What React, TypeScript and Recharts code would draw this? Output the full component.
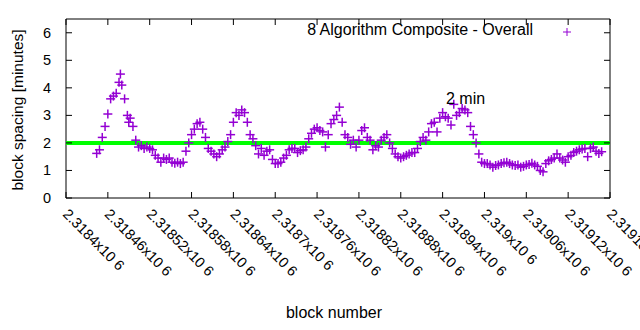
import { ScatterChart, Scatter, XAxis, YAxis, ReferenceLine, ReferenceArea } from 'recharts';

// block heights (x) and block spacing in minutes (y)
const blocks = [
    2318444, 2318448, 2318452, 2318456, 2318460, 2318464, 2318468, 2318472, 2318476, 2318478,
    2318480, 2318484, 2318488, 2318490, 2318492, 2318496, 2318500, 2318504, 2318508, 2318512,
    2318516, 2318520, 2318524, 2318528, 2318532, 2318536, 2318540, 2318544, 2318548, 2318552,
    2318556, 2318560, 2318564, 2318568, 2318572, 2318576, 2318580, 2318584, 2318588, 2318592,
    2318596, 2318600, 2318604, 2318608, 2318612, 2318616, 2318620, 2318624, 2318628, 2318632,
    2318636, 2318640, 2318644, 2318648, 2318652, 2318656, 2318660, 2318664, 2318668, 2318672,
    2318676, 2318680, 2318684, 2318688, 2318692, 2318696, 2318700, 2318704, 2318708, 2318712,
    2318716, 2318720, 2318724, 2318728, 2318732, 2318736, 2318740, 2318744, 2318748, 2318752,
    2318756, 2318760, 2318764, 2318768, 2318772, 2318776, 2318780, 2318784, 2318788, 2318792,
    2318796, 2318800, 2318804, 2318808, 2318812, 2318816, 2318820, 2318824, 2318828, 2318832,
    2318836, 2318840, 2318844, 2318848, 2318852, 2318856, 2318860, 2318864, 2318868, 2318872,
    2318876, 2318880, 2318884, 2318888, 2318892, 2318896, 2318900, 2318904, 2318908, 2318912,
    2318916, 2318920, 2318924, 2318928, 2318932, 2318936, 2318940, 2318944, 2318948, 2318952,
    2318956, 2318960, 2318964, 2318968, 2318972, 2318976, 2318980, 2318984, 2318988, 2318992,
    2318996, 2319000, 2319004, 2319008, 2319012, 2319016, 2319020, 2319024, 2319028, 2319032,
    2319036, 2319040, 2319044, 2319048, 2319052, 2319056, 2319060, 2319064, 2319068, 2319072,
    2319076, 2319080, 2319084, 2319088, 2319092, 2319096, 2319100, 2319104, 2319108, 2319112,
    2319116, 2319120, 2319124, 2319128, 2319132, 2319136, 2319140, 2319144, 2319148, 2319152,
    2319156, 2319160, 2319164, 2319168,
];

const spacing = [
    1.62, 1.75, 2.2, 2.6, 3.05, 3.6, 3.7, 3.8, 4.2, 4.5,
    4.1, 3.6, 3.0, 2.75, 2.9, 2.6, 2.1, 1.85, 1.9, 1.8,
    1.85, 1.8, 1.75, 1.55, 1.45, 1.3, 1.45, 1.4, 1.45, 1.3,
    1.26, 1.3, 1.25, 1.3, 1.7, 2.0, 2.3, 2.5, 2.7, 2.75,
    2.5, 2.2, 1.8, 1.7, 1.6, 1.5, 1.6, 1.75, 1.85, 2.05,
    2.3, 2.75, 3.1, 3.0, 3.2, 3.1, 2.75, 2.3, 2.15, 1.9,
    1.6, 1.8, 1.55, 1.7, 1.75, 1.4, 1.25, 1.25, 1.3, 1.45,
    1.55, 1.75, 1.8, 1.8, 1.65, 1.72, 1.75, 1.85, 2.15, 2.35,
    2.5, 2.55, 2.45, 2.4, 1.85, 2.3, 2.7, 2.85, 3.0, 3.3,
    2.75, 2.3, 2.2, 1.95, 2.1, 1.85, 2.1, 2.45, 2.55, 2.2,
    2.1, 1.75, 1.9, 1.85, 2.1, 2.2, 2.3, 2.0, 1.8, 1.6,
    1.5, 1.45, 1.5, 1.55, 1.6, 1.65, 1.65, 1.8, 2.05, 2.2,
    2.1, 2.4, 2.7, 2.75, 2.4, 2.9, 3.1, 2.95, 2.9, 2.65,
    3.4, 3.0, 3.1, 3.25, 3.2, 3.1, 2.6, 2.3, 2.0, 1.6,
    1.3, 1.25, 1.25, 1.2, 1.12, 1.18, 1.2, 1.25, 1.28, 1.3,
    1.25, 1.2, 1.18, 1.2, 1.12, 1.15, 1.2, 1.22, 1.26, 1.2,
    1.15, 1.0, 0.95, 1.25, 1.35, 1.4, 1.45, 1.6, 1.45, 1.38,
    1.3, 1.5, 1.55, 1.65, 1.7, 1.75, 1.78, 1.8, 1.5, 1.8,
    1.85, 1.7, 1.62, 1.68,
];

const xTicks = [
    2318400, 2318460, 2318520, 2318580, 2318640, 2318700, 2318760,
    2318820, 2318880, 2318940, 2319000, 2319060, 2319120, 2319180,
];
const yTicks = [0, 1, 2, 3, 4, 5, 6];

const seriesName = '8 Algorithm Composite - Overall';
const targetMinutes = 2;

const data = blocks.map((b, i) => ({ block: b, minutes: spacing[i] }));

const PURPLE = '#9400d3';
const FONT = '"Liberation Sans", Arial, sans-serif';
// plot frame (gnuplot style border)
const LEFT = 66, RIGHT = 610, TOP = 19, BOTTOM = 198;

const Plus = (props: any) => {
    const { cx, cy } = props;
    if (cx == null || cy == null) return null;
    return (
        <g stroke={PURPLE} strokeWidth={1.5}>
            <line x1={cx - 4.5} y1={cy} x2={cx + 4.5} y2={cy} />
            <line x1={cx} y1={cy - 4.5} x2={cx} y2={cy + 4.5} />
        </g>
    );
};

const XTick = (props: any) => {
    const { x, payload } = props;
    const label = `${+(payload.value / 1e6).toFixed(5)}x10 6`;
    const ox = x - 4, oy = 215;
    return (
        <g>
            <line x1={x} y1={BOTTOM} x2={x} y2={BOTTOM - 6} stroke="#000" />
            <line x1={x} y1={TOP} x2={x} y2={TOP + 6} stroke="#000" />
            <text x={ox} y={oy} transform={`rotate(45, ${ox}, ${oy})`} fontSize={14.5} fontFamily={FONT} fill="#000">
                {label}
            </text>
        </g>
    );
};

const YTick = (props: any) => {
    const { y, payload } = props;
    return (
        <g>
            <line x1={LEFT} y1={y} x2={LEFT + 6} y2={y} stroke="#000" />
            <line x1={RIGHT} y1={y} x2={RIGHT - 6} y2={y} stroke="#000" />
            <text x={51} y={y + 5} textAnchor="end" fontSize={14.5} fontFamily={FONT} fill="#000">
                {payload.value}
            </text>
        </g>
    );
};

export default function App() {
    return (
        <div style={{ position: 'relative', width: 640, height: 330, background: '#fff', fontFamily: FONT, color: '#000' }}>
            <style>{'body{margin:0}'}</style>
            <ScatterChart width={640} height={330} margin={{ top: TOP, right: 640 - RIGHT, bottom: 0, left: 0 }}>
                <XAxis
                    type="number"
                    dataKey="block"
                    domain={[2318400, 2319180]}
                    ticks={xTicks}
                    interval={0}
                    height={330 - BOTTOM}
                    axisLine={false}
                    tickLine={false}
                    tick={<XTick />}
                    allowDataOverflow
                />
                <YAxis
                    type="number"
                    dataKey="minutes"
                    domain={[0, 6.5]}
                    ticks={yTicks}
                    interval={0}
                    width={LEFT}
                    axisLine={false}
                    tickLine={false}
                    tick={<YTick />}
                    allowDataOverflow
                />
                <ReferenceArea x1={2318400} x2={2319180} y1={0} y2={6.5} fill="none" stroke="#000" strokeWidth={1} />
                <Scatter name={seriesName} data={data} shape={<Plus />} isAnimationActive={false} />
                <ReferenceLine y={targetMinutes} stroke="#00ff00" strokeWidth={4} />
            </ScatterChart>
            {/* legend */}
            <div style={{ position: 'absolute', right: 640 - 533, top: 21, fontSize: 16, whiteSpace: 'nowrap' }}>{seriesName}</div>
            <svg style={{ position: 'absolute', left: 562, top: 27 }} width={10} height={10}>
                <line x1={1} y1={5} x2={9} y2={5} stroke={PURPLE} />
                <line x1={5} y1={1} x2={5} y2={9} stroke={PURPLE} />
            </svg>
            <div style={{ position: 'absolute', left: 446, top: 90, fontSize: 16, whiteSpace: 'nowrap' }}>2 min</div>
            <div style={{ position: 'absolute', left: 0, top: 304, width: 640, textAlign: 'center', paddingLeft: 28, boxSizing: 'border-box', fontSize: 16 }}>
                block number
            </div>
            <div
                style={{
                    position: 'absolute', left: 18, top: 110, fontSize: 15.5, whiteSpace: 'nowrap',
                    transform: 'translate(-50%, -50%) rotate(-90deg)',
                }}
            >
                block spacing [minutes]
            </div>
        </div>
    );
}
